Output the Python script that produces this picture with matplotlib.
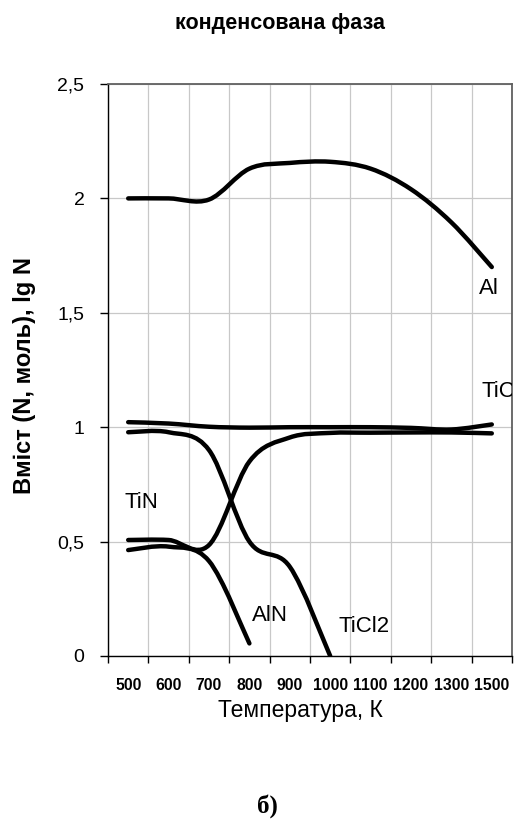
import numpy as np
import matplotlib
matplotlib.use("Agg")
import matplotlib.pyplot as plt
from matplotlib.path import Path
from matplotlib.patches import PathPatch

# temperature categories (K)
temps = ["500", "600", "700", "800", "900", "1000", "1100", "1200", "1300", "1500"]

# lg N of condensed phases
al = [2.0, 2.0, 1.995, 2.13, 2.155, 2.16, 2.13, 2.04, 1.895, 1.70]
tic = [1.022, 1.016, 1.002, 0.998, 1.0, 1.0, 1.0, 0.997, 0.99, 1.012]
tin = [0.507, 0.507, 0.485, 0.85, 0.955, 0.975, 0.976, 0.977, 0.977, 0.973]
ticl2 = [0.978, 0.978, 0.90, 0.50, 0.39, 0.0]
aln = [0.463, 0.478, 0.415, 0.055]

yticks = [0, 0.5, 1, 1.5, 2, 2.5]
ytick_labels = ["0", "0,5", "1", "1,5", "2", "2,5"]

plt.rcParams['font.family'] = ['Liberation Sans', 'DejaVu Sans']


def smooth_path(ys):
    """Excel-like smoothed line (Catmull-Rom as cubic Bezier)."""
    pts = [(float(i), float(v)) for i, v in enumerate(ys)]
    n = len(pts)
    verts = [pts[0]]
    codes = [Path.MOVETO]
    for i in range(n - 1):
        p0 = pts[max(i - 1, 0)]
        p1 = pts[i]
        p2 = pts[i + 1]
        p3 = pts[min(i + 2, n - 1)]
        c1 = (p1[0] + (p2[0] - p0[0]) / 6, p1[1] + (p2[1] - p0[1]) / 6)
        c2 = (p2[0] - (p3[0] - p1[0]) / 6, p2[1] - (p3[1] - p1[1]) / 6)
        verts += [c1, c2, p2]
        codes += [Path.CURVE4] * 3
    return Path(verts, codes)


fig = plt.figure(figsize=(5.15, 8.19), dpi=100)
ax = fig.add_axes([108 / 515, 1 - 656 / 819, 404 / 515, 572 / 819])

for series in [al, tic, tin, ticl2, aln]:
    patch = PathPatch(smooth_path(series), fill=False, lw=3.2, ec='black',
                      capstyle='round', joinstyle='round', zorder=3)
    ax.add_patch(patch)

ax.set_xlim(-0.5, len(temps) - 0.5)
ax.set_ylim(0, 2.5)

ax.set_xticks(np.arange(-0.5, len(temps)), minor=False)
ax.set_xticklabels([])
ax.set_xticks(np.arange(len(temps)), minor=True)
ax.set_xticklabels(temps, minor=True, fontsize=11.3, fontweight='bold')
ax.tick_params(axis='x', which='major', direction='out', length=5, width=1, color='black')
ax.tick_params(axis='x', which='minor', length=0, pad=16)

ax.set_yticks(yticks)
ax.set_yticklabels(ytick_labels, fontsize=14)
ax.tick_params(axis='y', direction='out', length=6, width=1, color='black', pad=11)

ax.grid(True, which='major', color='#c8c8c8', lw=0.9, zorder=0)
ax.set_axisbelow(True)

for side in ['top', 'right']:
    ax.spines[side].set_color('#606060')
    ax.spines[side].set_linewidth(1.3)
for side in ['left', 'bottom']:
    ax.spines[side].set_color('black')
    ax.spines[side].set_linewidth(1.0)

# series labels
ax.text(0.34, 0.669, "TiN", fontsize=16, ha='center', va='center')
ax.text(3.50, 0.179, "AlN", fontsize=16, ha='center', va='center')
ax.text(5.85, 0.128, "TiCl2", fontsize=16, ha='center', va='center')
ax.text(8.94, 1.608, "Al", fontsize=16, ha='center', va='center')
ax.text(8.75, 1.155, "TiC", fontsize=16, ha='left', va='center', clip_on=True)

fig.text(25 / 515, 1 - 376 / 819, "Вміст (N, моль), lg N", rotation=90,
         fontsize=17, fontweight='bold', ha='center', va='center')
fig.text(300 / 515, 1 - 710 / 819, "Температура, К", fontsize=16.5,
         ha='center', va='center')
fig.text(280 / 515, 1 - 23 / 819, "конденсована фаза", fontsize=15.5,
         fontweight='bold', ha='center', va='center')
fig.text(267 / 515, 1 - 806 / 819, "б)", fontsize=18, fontweight='bold',
         family=['Liberation Serif', 'DejaVu Serif'], ha='center', va='center')

fig.savefig("out.png", dpi=100)
